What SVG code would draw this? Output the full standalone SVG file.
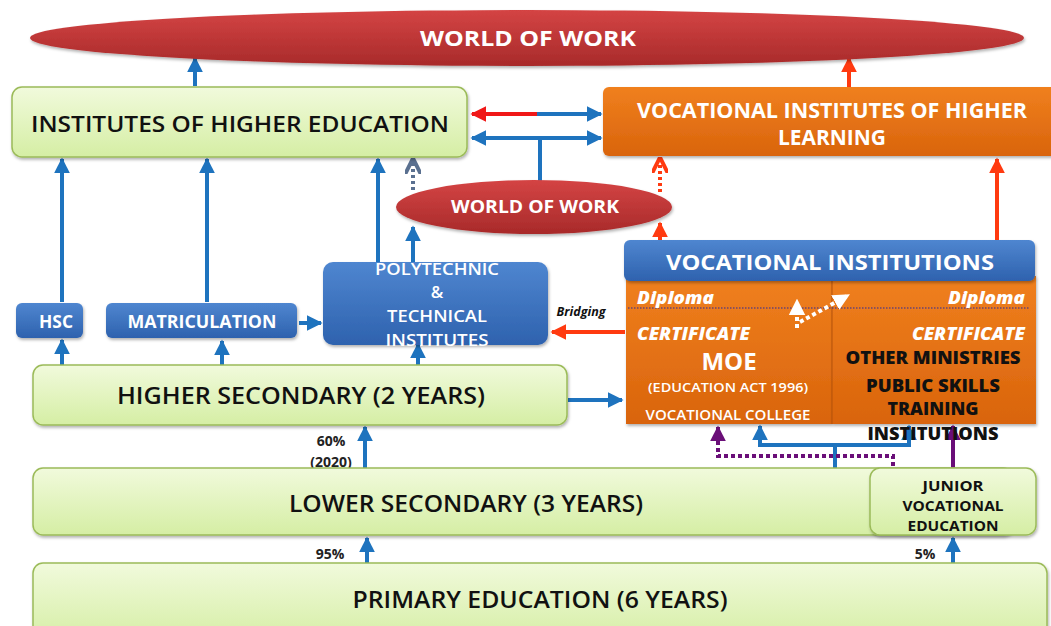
<svg xmlns="http://www.w3.org/2000/svg" width="1051" height="626" viewBox="0 0 1051 626">
  <defs>
    <linearGradient id="gGreen" x1="0" y1="0" x2="0" y2="1">
      <stop offset="0" stop-color="#F1FADC"/>
      <stop offset="1" stop-color="#D5EEA4"/>
    </linearGradient>
    <linearGradient id="gBlue" x1="0" y1="0" x2="0" y2="1">
      <stop offset="0" stop-color="#4F86D0"/>
      <stop offset="1" stop-color="#2E62AE"/>
    </linearGradient>
    <linearGradient id="gOrange" x1="0" y1="0" x2="0" y2="1">
      <stop offset="0" stop-color="#F0801E"/>
      <stop offset="1" stop-color="#D9640C"/>
    </linearGradient>
    <linearGradient id="gRed" x1="0" y1="0" x2="0" y2="1">
      <stop offset="0" stop-color="#D44444"/>
      <stop offset="1" stop-color="#A82A2A"/>
    </linearGradient>
    <filter id="shadow" x="-5%" y="-10%" width="110%" height="130%">
      <feDropShadow dx="1" dy="2" stdDeviation="1.5" flood-color="#000" flood-opacity="0.3"/>
    </filter>
    <marker id="aBlue" viewBox="0 0 10 10" refX="9" refY="5" markerWidth="4" markerHeight="4" orient="auto-start-reverse">
      <path d="M0,0 L10,5 L0,10 Z" fill="#1E73BE"/>
    </marker>
    <marker id="aRed" viewBox="0 0 10 10" refX="9" refY="5" markerWidth="4" markerHeight="4" orient="auto-start-reverse">
      <path d="M0,0 L10,5 L0,10 Z" fill="#FF3A10"/>
    </marker>
    <marker id="aPureRed" viewBox="0 0 10 10" refX="9" refY="5" markerWidth="4" markerHeight="4" orient="auto-start-reverse">
      <path d="M0,0 L10,5 L0,10 Z" fill="#F01818"/>
    </marker>
    <marker id="aPurple" viewBox="0 0 10 10" refX="9" refY="5" markerWidth="4" markerHeight="4" orient="auto-start-reverse">
      <path d="M0,0 L10,5 L0,10 Z" fill="#6A0E78"/>
    </marker>
    <marker id="aGrey" viewBox="0 0 10 10" refX="9" refY="5" markerWidth="4" markerHeight="4" orient="auto-start-reverse">
      <path d="M0,0 L10,5 L0,10" fill="none" stroke="#5A7090" stroke-width="2.5"/>
    </marker>
    <marker id="aRedOpen" viewBox="0 0 10 10" refX="9" refY="5" markerWidth="4" markerHeight="4" orient="auto-start-reverse">
      <path d="M0,0 L10,5 L0,10" fill="none" stroke="#FF3A10" stroke-width="2.5"/>
    </marker>
    <marker id="aWhite" viewBox="0 0 10 10" refX="8" refY="5" markerWidth="4.2" markerHeight="4.8" orient="auto-start-reverse">
      <path d="M0,0 L10,5 L0,10 Z" fill="#FFFFFF"/>
    </marker>
  </defs>
  <style>
    text { font-family: "Open Sans", "Liberation Sans", Arial, sans-serif; text-anchor: middle; }
    .green { fill: url(#gGreen); stroke: #9BBB59; stroke-width: 1.5; filter: url(#shadow); }
    .blue { fill: url(#gBlue); filter: url(#shadow); }
    .orange { fill: url(#gOrange); filter: url(#shadow); }
    .ell { fill: url(#gRed); filter: url(#shadow); }
    .dark { fill: #111; font-weight: 600; }
    .white { fill: #fff; font-weight: 700; }
    .ital { font-style: italic; font-weight: 800; fill: #fff; }
    .ln { fill: none; stroke-width: 4; }
    .b { stroke: #1E73BE; }
    .r { stroke: #FF3A10; }
    .pct { fill: #222; font-weight: 700; font-size: 14px; }
    .blk { fill: #111; font-weight: 800; }
  </style>

  <!-- connectors -->
  <g id="connectors" class="ln">
    <!-- to top world of work -->
    <line class="ln b" x1="195" y1="86" x2="195" y2="58" marker-end="url(#aBlue)"/>
    <line class="ln r" x1="849" y1="87" x2="849" y2="58" marker-end="url(#aRed)"/>
    <!-- between higher education and vocational higher learning -->
    <line class="ln" stroke="#F01818" x1="537" y1="114" x2="472" y2="114" marker-end="url(#aPureRed)"/>
    <line class="ln b" x1="537" y1="114" x2="601" y2="114" marker-end="url(#aBlue)"/>
    <line class="ln b" x1="472" y1="138" x2="601" y2="138" marker-start="url(#aBlue)" marker-end="url(#aBlue)"/>
    <line class="ln b" x1="540" y1="138" x2="540" y2="182"/>
    <!-- into institutes of higher education -->
    <line class="ln b" x1="62" y1="302" x2="62" y2="159" marker-end="url(#aBlue)"/>
    <line class="ln b" x1="207" y1="302" x2="207" y2="159" marker-end="url(#aBlue)"/>
    <line class="ln b" x1="378" y1="262" x2="378" y2="159" marker-end="url(#aBlue)"/>
    <line class="ln b" x1="413" y1="262" x2="413" y2="227" marker-end="url(#aBlue)"/>
    <line class="ln" stroke="#5A7090" stroke-width="3" stroke-dasharray="3 3" x1="413" y1="190" x2="413" y2="160" marker-end="url(#aGrey)"/>
    <!-- into vocational higher learning -->
    <line class="ln r" x1="660" y1="240" x2="660" y2="223" marker-end="url(#aRed)"/>
    <line class="ln r" stroke-width="3" stroke-dasharray="3 3" x1="660" y1="192" x2="660" y2="159" marker-end="url(#aRedOpen)"/>
    <line class="ln r" x1="997" y1="240" x2="997" y2="159" marker-end="url(#aRed)"/>
    <!-- matriculation to polytechnic, bridging -->
    <line class="ln b" x1="299" y1="323" x2="321" y2="323" marker-end="url(#aBlue)"/>
    <line class="ln r" x1="625" y1="332" x2="552" y2="332" marker-end="url(#aRed)"/>
    <!-- from higher secondary -->
    <line class="ln b" x1="62" y1="365" x2="62" y2="340" marker-end="url(#aBlue)"/>
    <line class="ln b" x1="222" y1="365" x2="222" y2="341" marker-end="url(#aBlue)"/>
    <line class="ln b" x1="418" y1="365" x2="418" y2="344" marker-end="url(#aBlue)"/>
    <line class="ln b" x1="568" y1="400" x2="622" y2="400" marker-end="url(#aBlue)"/>
    <!-- lower levels -->
    <line class="ln b" x1="365" y1="468" x2="365" y2="427" marker-end="url(#aBlue)"/>
    <line class="ln b" x1="367" y1="563" x2="367" y2="538" marker-end="url(#aBlue)"/>
    <line class="ln b" x1="953" y1="563" x2="953" y2="538" marker-end="url(#aBlue)"/>
    <!-- lower secondary to vocational institutions -->
    <path class="ln b" d="M835,468 V445 H909 V426" marker-end="url(#aBlue)"/>
    <path class="ln b" d="M835,445 H760 V426" marker-end="url(#aBlue)"/>
    <path class="ln" stroke="#6A0E78" stroke-width="3.5" stroke-dasharray="4 3" d="M893,466 V456 H718 V427" marker-end="url(#aPurple)"/>
    <line class="ln" stroke="#6A0E78" x1="953" y1="468" x2="953" y2="426" marker-end="url(#aPurple)"/>
  </g>

  <!-- top world of work -->
  <g id="world-of-work-top">
    <ellipse class="ell" cx="527" cy="38" rx="497" ry="28"/>
    <text class="white" x="528" y="46" font-size="22" textLength="216" lengthAdjust="spacingAndGlyphs">WORLD OF WORK</text>
  </g>

  <g id="institutes-higher-education">
    <rect class="green" x="12" y="87" width="455" height="70" rx="10"/>
    <text class="dark" x="240" y="132" font-size="22" textLength="418" lengthAdjust="spacingAndGlyphs">INSTITUTES OF HIGHER EDUCATION</text>
  </g>

  <g id="vocational-higher-learning">
    <rect class="orange" x="603" y="87" width="460" height="69" rx="6"/>
    <text class="white" x="832" y="118" font-size="21" textLength="390" lengthAdjust="spacingAndGlyphs">VOCATIONAL INSTITUTES OF  HIGHER</text>
    <text class="white" x="832" y="145" font-size="21" textLength="108" lengthAdjust="spacingAndGlyphs">LEARNING</text>
  </g>

  <g id="world-of-work-middle">
    <ellipse class="ell" cx="534" cy="207" rx="138" ry="27"/>
    <text class="white" x="535" y="213" font-size="17" textLength="168" lengthAdjust="spacingAndGlyphs">WORLD OF WORK</text>
  </g>

  <g id="hsc">
    <rect class="blue" x="16" y="303" width="67" height="35" rx="6"/>
    <text class="white" x="56" y="328" font-size="18" textLength="34" lengthAdjust="spacingAndGlyphs">HSC</text>
  </g>

  <g id="matriculation">
    <rect class="blue" x="106" y="303" width="191" height="35" rx="6"/>
    <text class="white" x="202" y="328" font-size="18" textLength="149" lengthAdjust="spacingAndGlyphs">MATRICULATION</text>
  </g>

  <g id="polytechnic">
    <rect class="blue" x="323" y="262" width="225" height="83" rx="10"/>
    <text fill="#fff" font-weight="600" x="437" y="275" font-size="17" textLength="124" lengthAdjust="spacingAndGlyphs">POLYTECHNIC</text>
    <text fill="#fff" font-weight="600" x="437" y="298" font-size="17">&amp;</text>
    <text fill="#fff" font-weight="600" x="437" y="322" font-size="17" textLength="100" lengthAdjust="spacingAndGlyphs">TECHNICAL</text>
    <text fill="#fff" font-weight="600" x="437" y="346" font-size="17" textLength="103" lengthAdjust="spacingAndGlyphs">INSTITUTES</text>
  </g>
  <text x="581" y="316" font-size="12.5" font-style="italic" font-weight="700" fill="#111">Bridging</text>

  <g id="vocational-institutions">
    <rect class="orange" x="626" y="276" width="206" height="148"/>
    <rect class="orange" x="832" y="276" width="204" height="148"/>
    <line x1="832" y1="281" x2="832" y2="424" stroke="#B5520A" stroke-width="1"/>
    <rect class="blue" x="624" y="240" width="411" height="41" rx="6"/>
    <text class="white" x="830" y="270" font-size="22" textLength="328" lengthAdjust="spacingAndGlyphs">VOCATIONAL INSTITUTIONS</text>
    <line x1="628" y1="308" x2="1030" y2="308" stroke="#2A2A9A" stroke-width="1.2" stroke-dasharray="1.5 1.5"/>
    <text class="ital" x="637" y="304" font-size="17" style="text-anchor:start" textLength="77" lengthAdjust="spacingAndGlyphs">Diploma</text>
    <text class="ital" x="948" y="304" font-size="17" style="text-anchor:start" textLength="77" lengthAdjust="spacingAndGlyphs">Diploma</text>
    <text class="ital" x="637" y="340" font-size="17" style="text-anchor:start" textLength="113" lengthAdjust="spacingAndGlyphs">CERTIFICATE</text>
    <text class="ital" x="912" y="340" font-size="17" style="text-anchor:start" textLength="113" lengthAdjust="spacingAndGlyphs">CERTIFICATE</text>
    <text class="white" x="729" y="370" font-size="24">MOE</text>
    <text fill="#fff" font-weight="600" x="728" y="392" font-size="13" textLength="160" lengthAdjust="spacingAndGlyphs">(EDUCATION ACT 1996)</text>
    <text fill="#fff" font-weight="600" x="728" y="420" font-size="13.5" textLength="165" lengthAdjust="spacingAndGlyphs">VOCATIONAL COLLEGE</text>
    <text class="blk" x="933" y="364" font-size="18" textLength="175" lengthAdjust="spacingAndGlyphs">OTHER MINISTRIES</text>
    <text class="blk" x="933" y="392" font-size="18" textLength="134" lengthAdjust="spacingAndGlyphs">PUBLIC  SKILLS</text>
    <text class="blk" x="933" y="415" font-size="18" textLength="91" lengthAdjust="spacingAndGlyphs">TRAINING</text>
    <text class="blk" x="933" y="440" font-size="18" textLength="131" lengthAdjust="spacingAndGlyphs">INSTITUTIONS</text>
    <!-- certificate to diploma progression -->
    <path d="M797,328 V302" fill="none" stroke="#fff" stroke-width="4" stroke-dasharray="4 3" marker-end="url(#aWhite)"/>
    <path d="M800,322 L847,296" fill="none" stroke="#fff" stroke-width="4" stroke-dasharray="4 3" marker-end="url(#aWhite)"/>
  </g>

  <g id="higher-secondary">
    <rect class="green" x="33" y="365" width="534" height="60" rx="10"/>
    <text class="dark" x="301" y="404" font-size="23" textLength="368" lengthAdjust="spacingAndGlyphs">HIGHER SECONDARY  (2 YEARS)</text>
  </g>

  <text class="pct" x="331" y="446">60%</text>
  <text class="pct" x="331" y="467">(2020)</text>

  <g id="lower-secondary">
    <rect class="green" x="33" y="468" width="980" height="67" rx="10"/>
    <text class="dark" x="466" y="512" font-size="23" textLength="354" lengthAdjust="spacingAndGlyphs">LOWER SECONDARY (3 YEARS)</text>
  </g>

  <g id="junior-vocational">
    <rect class="green" x="870" y="468" width="166" height="67" rx="10"/>
    <text fill="#111" font-weight="700" x="953" y="491" font-size="14.5" textLength="61" lengthAdjust="spacingAndGlyphs">JUNIOR</text>
    <text fill="#111" font-weight="700" x="953" y="511" font-size="14.5" textLength="101" lengthAdjust="spacingAndGlyphs">VOCATIONAL</text>
    <text fill="#111" font-weight="700" x="953" y="531" font-size="14.5" textLength="91" lengthAdjust="spacingAndGlyphs">EDUCATION</text>
  </g>

  <text class="pct" x="330" y="559">95%</text>
  <text class="pct" x="925" y="559">5%</text>

  <g id="primary">
    <rect class="green" x="33" y="563" width="1014" height="80" rx="10"/>
    <text class="dark" x="540" y="608" font-size="23" textLength="375" lengthAdjust="spacingAndGlyphs">PRIMARY EDUCATION (6 YEARS)</text>
  </g>
</svg>
